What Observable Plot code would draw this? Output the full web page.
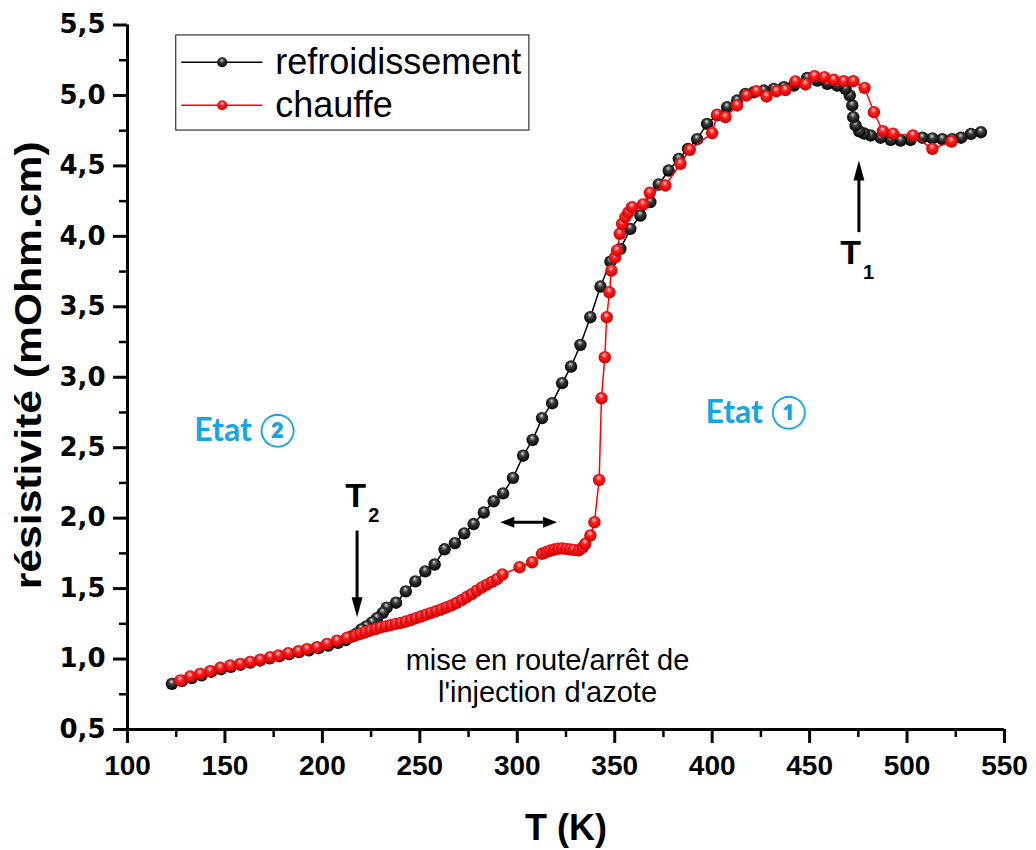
<!DOCTYPE html>
<html><head><meta charset="utf-8">
<script src="https://cdn.jsdelivr.net/npm/d3@7"></script>
<script src="https://cdn.jsdelivr.net/npm/@observablehq/plot@0.6"></script>
<style>
body{margin:0;background:#fff}
#chart{position:relative;width:1036px;height:850px}
</style>
</head><body>
<svg width="0" height="0" style="position:absolute">
<defs>
<radialGradient id="ballBlack" cx="0.5" cy="0.45" r="0.55" fx="0.45" fy="0.28">
<stop offset="0" stop-color="#d8d8d8"/><stop offset="0.4" stop-color="#3a3a3a"/><stop offset="1" stop-color="#000"/>
</radialGradient>
<radialGradient id="ballRed" cx="0.5" cy="0.45" r="0.55" fx="0.45" fy="0.28">
<stop offset="0" stop-color="#ffe0e0"/><stop offset="0.4" stop-color="#ff2020"/><stop offset="1" stop-color="#c80000"/>
</radialGradient>
</defs></svg>
<div id="chart"></div>
<script>
// ---- data ----
const coolT = [537.9,532.8,527.7,523.2,518.1,513.0,507.9,501.8,496.7,491.6,486.4,481.3,478.0,475.5,473.6,472.4,471.9,470.6,468.4,464.2,459.1,453.9,448.8,441.9,436.8,431.6,426.5,421.4,417.1,412.8,407.7,402.6,397.4,392.3,387.6,382.9,377.7,372.6,368.3,363.2,358.0,352.9,347.8,342.7,337.5,332.4,327.6,323.0,317.9,312.7,307.9,303.0,297.8,292.7,287.9,282.8,277.6,272.8,268.0,262.7,257.6,252.8,247.7,242.8,237.8,233.0,231.0,228.0,225.5,222.5,220.0,217.5,215.0,212.0,208.0,203.0,198.0,193.0,188.0,183.0,178.0,173.0,168.0,163.0,158.0,153.0,148.0,143.0,138.0,133.0,128.0,122.8];
const coolR = [4.739,4.727,4.700,4.690,4.690,4.695,4.700,4.684,4.680,4.684,4.700,4.716,4.730,4.745,4.787,4.846,4.929,5.000,5.047,5.070,5.082,5.106,5.124,5.070,5.059,5.047,5.035,5.023,5.011,4.964,4.917,4.860,4.798,4.690,4.620,4.550,4.467,4.368,4.243,4.148,4.053,3.911,3.820,3.644,3.426,3.230,3.076,2.958,2.816,2.710,2.555,2.443,2.286,2.176,2.120,2.040,1.958,1.892,1.823,1.779,1.671,1.622,1.551,1.480,1.400,1.365,1.328,1.290,1.260,1.232,1.210,1.180,1.160,1.135,1.115,1.095,1.077,1.062,1.050,1.035,1.020,1.005,0.990,0.975,0.960,0.945,0.928,0.910,0.885,0.865,0.845,0.824];
const heatT = [127.1,132.2,137.3,142.4,147.6,152.7,157.9,163.0,168.1,173.3,177.4,182.5,187.7,192.1,197.2,202.4,207.5,212.6,216.9,219.5,222.0,224.6,227.2,229.8,232.4,235.0,237.6,240.2,242.8,245.4,248.0,250.6,253.2,255.8,258.4,261.0,263.6,266.2,268.8,271.4,274.0,276.6,279.2,281.8,284.4,287.0,289.6,292.4,301.2,307.6,312.7,315.0,317.0,319.0,321.0,323.0,325.0,327.0,329.0,331.5,333.5,334.9,337.5,339.6,342.0,343.2,344.9,345.9,347.3,348.3,350.2,351.2,352.6,353.8,355.5,357.0,358.9,364.5,368.0,376.0,383.7,388.5,400.0,402.6,406.8,412.8,417.6,422.7,427.9,433.0,437.6,442.7,447.9,452.5,457.6,462.4,467.5,472.4,478.2,483.0,487.6,492.9,503.0,513.0,522.8];
const heatR = [0.848,0.876,0.895,0.914,0.938,0.954,0.966,0.980,0.995,1.013,1.025,1.042,1.056,1.070,1.084,1.108,1.130,1.151,1.167,1.179,1.190,1.203,1.213,1.224,1.232,1.240,1.250,1.257,1.266,1.277,1.290,1.302,1.315,1.328,1.340,1.352,1.366,1.381,1.398,1.418,1.440,1.460,1.485,1.508,1.528,1.548,1.567,1.600,1.652,1.687,1.747,1.760,1.770,1.777,1.783,1.785,1.782,1.778,1.775,1.772,1.790,1.818,1.877,1.971,2.271,2.851,3.142,3.426,3.603,3.757,3.850,3.900,4.018,4.089,4.137,4.170,4.207,4.226,4.309,4.361,4.515,4.614,4.733,4.863,4.846,4.929,5.000,5.030,4.993,5.030,5.038,5.100,5.078,5.137,5.130,5.111,5.101,5.101,5.054,4.881,4.746,4.728,4.716,4.621,4.673];
const xTicks = [100,150,200,250,300,350,400,450,500,550];
const xMinor = [125,175,225,275,325,375,425,475,525];
const yTicks = [0.5,1.0,1.5,2.0,2.5,3.0,3.5,4.0,4.5,5.0,5.5];
const yMinor = [0.75,1.25,1.75,2.25,2.75,3.25,3.75,4.25,4.75,5.25];
const seriesNames = ["refroidissement","chauffe"];
const xTitle = "T (K)";
const yTitle = "résistivité (mOhm.cm)";

const cooling = coolT.map((t,i)=>({T:t,R:coolR[i]}));
const heating = heatT.map((t,i)=>({T:t,R:heatR[i]}));
const fmt = d => d.toFixed(1).replace(".", ",");

// arrow head symbols (tip at origin, base below)
const headV = {draw(c){c.moveTo(0,0);c.lineTo(5.5,20);c.lineTo(-5.5,20);c.closePath();}};
const headH = {draw(c){c.moveTo(0,0);c.lineTo(5.5,14);c.lineTo(-5.5,14);c.closePath();}};

const SANS = "Liberation Sans, Arial, sans-serif";
const plot = Plot.plot({
  width:1036, height:850,
  marginLeft:127, marginRight:32, marginTop:24.5, marginBottom:121,
  x:{domain:[100,550]}, y:{domain:[0.5,5.5]},
  style:{background:"#fff", color:"#000", overflow:"visible"},
  marks:[
    Plot.axisX(xMinor,{tickSize:8, strokeWidth:2.5, tickFormat:()=>"", label:null}),
    Plot.axisY(yMinor,{tickSize:8, strokeWidth:2.5, tickFormat:()=>"", label:null}),
    Plot.axisX(xTicks,{tickSize:14, strokeWidth:3, tickPadding:12, fontSize:28, fontWeight:"bold", fontFamily:SANS, label:null}),
    Plot.axisY(yTicks,{tickSize:14, strokeWidth:3, tickPadding:8, tickFormat:fmt, fontSize:26, fontWeight:"bold", fontFamily:"DejaVu Sans, sans-serif", label:null}),
    Plot.ruleY([0.5],{strokeWidth:3}),
    Plot.ruleX([100],{strokeWidth:3}),
    Plot.text([xTitle],{text:d=>d, frameAnchor:"bottom", dy:99, textAnchor:"middle", lineAnchor:"middle", fontSize:36, fontWeight:"bold", fontFamily:SANS}),
    Plot.text([yTitle],{text:d=>d, frameAnchor:"left", dx:-98, dy:-12, rotate:-90, textAnchor:"middle", lineAnchor:"middle", fontSize:36, fontWeight:"bold", fontFamily:SANS, className:"ytitle"}),
    // data
    Plot.line(cooling,{x:"T", y:"R", stroke:"#000", strokeWidth:1.5}),
    Plot.dot(cooling,{x:"T", y:"R", r:6.2, fill:"url(#ballBlack)", stroke:"none"}),
    Plot.line(heating,{x:"T", y:"R", stroke:"#ff0000", strokeWidth:1.5}),
    Plot.dot(heating,{x:"T", y:"R", r:6.2, fill:"url(#ballRed)", stroke:"none"}),
    // annotations
    Plot.text(["Etat ②"],{text:d=>d, x:160.2, y:2.62, fontSize:32, fontWeight:"bold", fontFamily:"Lato, Open Sans, sans-serif", fill:"#14a6e3"}),
    Plot.text(["Etat ①"],{text:d=>d, x:422.5, y:2.75, fontSize:32, fontWeight:"bold", fontFamily:"Lato, Open Sans, sans-serif", fill:"#14a6e3"}),
    Plot.text(["T"],{text:d=>d, x:217.1, y:2.157, fontSize:34, fontWeight:"bold", fontFamily:SANS}),
    Plot.text(["2"],{text:d=>d, x:226.4, y:2.019, fontSize:20, fontWeight:"bold", fontFamily:SANS}),
    Plot.text(["T"],{text:d=>d, x:471, y:3.878, fontSize:34, fontWeight:"bold", fontFamily:SANS}),
    Plot.text(["1"],{text:d=>d, x:480.2, y:3.743, fontSize:20, fontWeight:"bold", fontFamily:SANS}),
    Plot.text(["mise en route/arrêt de"],{text:d=>d, x:315.5, y:0.99, fontSize:29, fontFamily:SANS}),
    Plot.text(["l'injection d'azote"],{text:d=>d, x:315.5, y:0.763, fontSize:29, fontFamily:SANS}),
    Plot.link([0],{x1:217.8, x2:217.8, y1:1.912, y2:1.40, stroke:"#000", strokeWidth:3}),
    Plot.dot([0],{x:217.8, y:1.297, symbol:headV, rotate:180, fill:"#000", stroke:"none"}),
    Plot.link([0],{x1:475.3, x2:475.3, y1:4.03, y2:4.44, stroke:"#000", strokeWidth:3}),
    Plot.dot([0],{x:475.3, y:4.538, symbol:headV, rotate:0, fill:"#000", stroke:"none"}),
    Plot.link([0],{x1:297, x2:314.5, y1:1.971, y2:1.971, stroke:"#000", strokeWidth:3}),
    Plot.dot([0],{x:291.3, y:1.971, symbol:headH, rotate:-90, fill:"#000", stroke:"none"}),
    Plot.dot([0],{x:320.4, y:1.971, symbol:headH, rotate:90, fill:"#000", stroke:"none"}),
    // legend
    Plot.rect([0],{x1:125, x2:306.2, y1:4.751, y2:5.426, fill:"#fff", stroke:"#333", strokeWidth:1.2}),
    Plot.link([0],{x1:127.6, x2:169.2, y1:5.236, y2:5.236, stroke:"#000", strokeWidth:1.5}),
    Plot.link([0],{x1:127.6, x2:169.2, y1:4.931, y2:4.931, stroke:"#ff0000", strokeWidth:1.5}),
    Plot.dot([0],{x:148.6, y:5.236, r:5, fill:"url(#ballBlack)", stroke:"none"}),
    Plot.dot([0],{x:148.6, y:4.931, r:5, fill:"url(#ballRed)", stroke:"none"}),
    Plot.text([seriesNames[0]],{text:d=>d, x:175.8, y:5.236, textAnchor:"start", fontSize:36, fontFamily:SANS}),
    Plot.text([seriesNames[1]],{text:d=>d, x:175.8, y:4.931, textAnchor:"start", fontSize:36, fontFamily:SANS})
  ]
});
d3.select(plot).selectAll("g.ytitle text").attr("textLength", 448).attr("lengthAdjust", "spacingAndGlyphs");
document.getElementById("chart").appendChild(plot);
</script>
</body></html>
